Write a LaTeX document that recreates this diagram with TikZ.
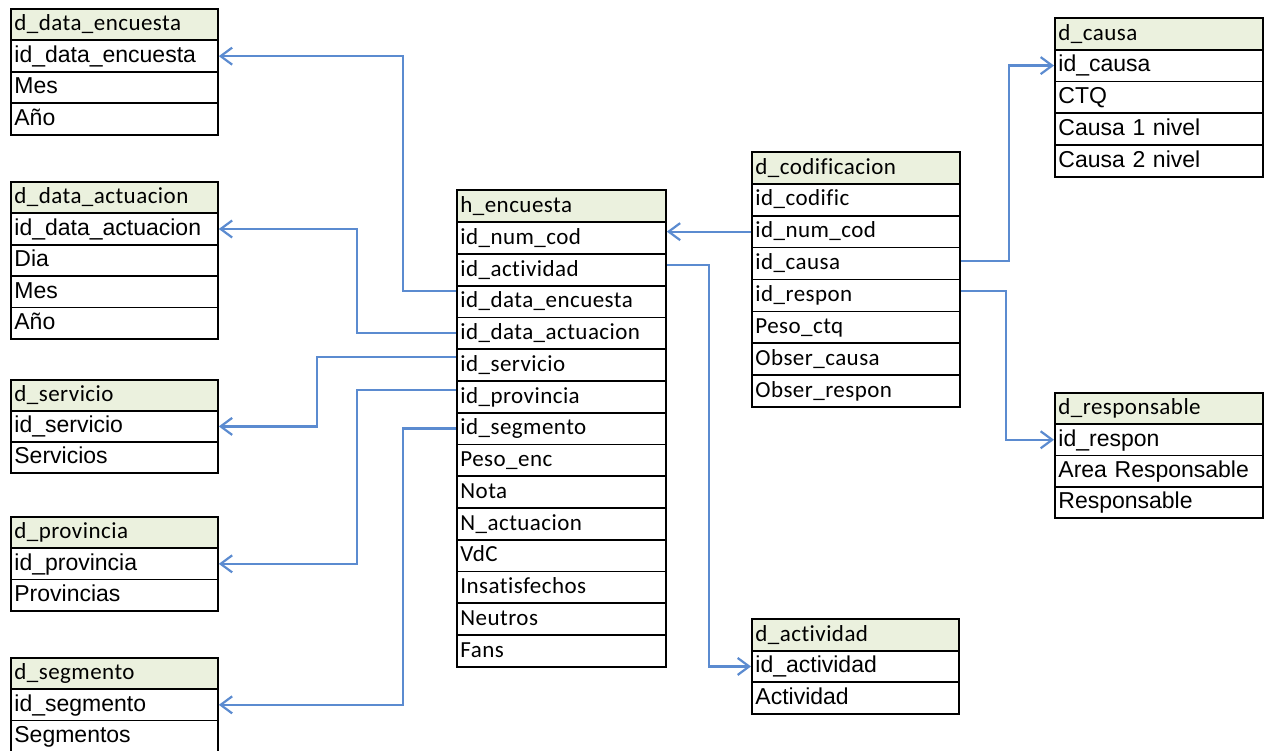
\documentclass[tikz,border=0pt]{standalone}
\usepackage{fontspec}
\setmainfont{Liberation Sans}
\newfontfamily\calibfont[LetterSpace=2,Ligatures={NoCommon}]{Carlito}
\usetikzlibrary{arrows.meta}

\definecolor{hdrfill}{HTML}{EBF1DE}
\definecolor{linkblue}{HTML}{5B8BD0}

\tikzset{
  cell/.style={draw=black, line width=1.8pt, anchor=north west,
    inner xsep=3.5pt, inner ysep=0pt, align=left,
    text height=17pt, text depth=4.5pt},
  arialrow/.style={cell, font=\fontsize{23}{27}\selectfont},
  calibrow/.style={cell, font=\calibfont\fontsize{23}{27}\selectfont},
  hdrrow/.style={calibrow, fill=hdrfill},
  link/.style={draw=linkblue, line width=2.2pt, line join=miter,
    -{Straight Barb[length=11.5pt,width=17pt,line width=2.2pt]}}
}

% #1 name, #2 x, #3 y, #4 text width, #5 row height, #6 row style,
% #7 header, #8 field list
\newcommand{\erdtable}[8]{%
  \node[hdrrow, text width=#4, minimum height=#5] (#1-0) at (#2,#3) {#7};
  \foreach \fld [count=\i] in {#8}
    \node[#6, text width=#4, minimum height=#5] (#1-\i) at (#2,{#3+\i*#5}) {\fld};
}

\begin{document}
\begin{tikzpicture}[x=1pt,y=-1pt]
\useasboundingbox (0,0) rectangle (1266,751);

% dimension tables on the left
\erdtable{de}{10}{8}{200pt}{31.5}{arialrow}{d\_data\_encuesta}
  {id\_data\_encuesta, Mes, Año}
\erdtable{da}{10}{181}{200pt}{31.4}{arialrow}{d\_data\_actuacion}
  {id\_data\_actuacion, Dia, Mes, Año}
\erdtable{sv}{10}{379}{200pt}{31}{arialrow}{d\_servicio}
  {id\_servicio, Servicios}
\erdtable{pv}{10}{516}{200pt}{31.3}{arialrow}{d\_provincia}
  {id\_provincia, Provincias}
\erdtable{sg}{10}{657}{200pt}{31.3}{arialrow}{d\_segmento}
  {id\_segmento, Segmentos}

% fact table
\erdtable{h}{456}{189.5}{202pt}{31.75}{calibrow}{h\_encuesta}
  {id\_num\_cod, id\_actividad, id\_data\_encuesta, id\_data\_actuacion,
   id\_servicio, id\_provincia, id\_segmento, Peso\_enc, Nota,
   N\_actuacion, VdC, Insatisfechos, Neutros, Fans}

% coding table and its dimensions
\erdtable{c}{751}{151}{201pt}{31.9}{calibrow}{d\_codificacion}
  {id\_codific, id\_num\_cod, id\_causa, id\_respon, Peso\_ctq,
   Obser\_causa, Obser\_respon}
\erdtable{ca}{1054}{17}{201pt}{31.8}{arialrow}{d\_causa}
  {id\_causa, CTQ, Causa 1 nivel, Causa 2 nivel}
\erdtable{re}{1054}{392}{201pt}{31.25}{arialrow}{d\_responsable}
  {id\_respon, Area Responsable, Responsable}
\erdtable{act}{751}{618}{200pt}{31.7}{arialrow}{d\_actividad}
  {id\_actividad, Actividad}

% foreign keys of the fact table
\draw[link] ([yshift=10.5pt]h-3.west) -- ++(-53,0) |- (de-1.east);
\draw[link] (h-4.west) -- ++(-99,0) |- (da-1.east);
\draw[link] ([yshift=8pt]h-5.west) -- ++(-139,0) |- (sv-1.east);
\draw[link] ([yshift=7pt]h-6.west) -- ++(-99,0) |- (pv-1.east);
\draw[link] (h-7.west) -- ++(-53,0) |- (sg-1.east);
\draw[link] ([yshift=5pt]h-2.east) -- ++(42,0) |- (act-1.west);

% links from the coding table
\draw[link] (c-2.west) -- (c-2.west -| h-1.east);
\draw[link] ([yshift=2.7pt]c-3.east) -- ++(48,0) |- (ca-1.west);
\draw[link] ([yshift=4.6pt]c-4.east) -- ++(45,0) |- (re-1.west);
\end{tikzpicture}
\end{document}
